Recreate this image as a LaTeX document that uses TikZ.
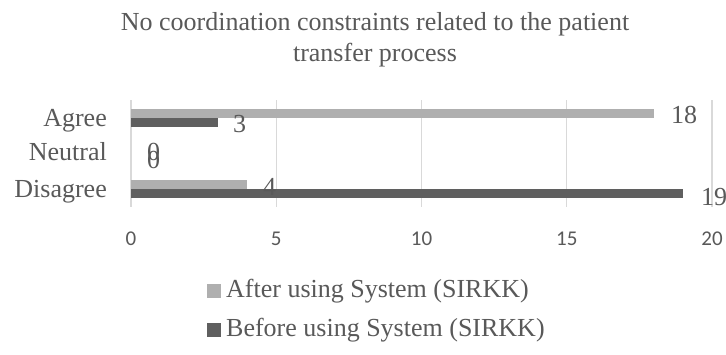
\documentclass[tikz,border=0pt]{standalone}
\usepackage{fontspec}
\setmainfont{Liberation Serif}
\newfontfamily\calibfont{Carlito}
\definecolor{txt}{HTML}{595959}
\definecolor{lightbar}{HTML}{AFAFAF}
\definecolor{darkbar}{HTML}{5F5F5F}
\definecolor{gridc}{HTML}{D9D9D9}
\begin{document}
\begin{tikzpicture}[x=1pt,y=-1pt,
  lbl/.style={font=\fontsize{26}{31}\selectfont, text=txt, inner sep=0pt},
  ticklbl/.style={font=\calibfont\fontsize{21}{25}\selectfont, text=txt, inner sep=0pt},
  gridline/.style={draw=gridc, line width=1.3pt},
  afterbar/.style={fill=lightbar},
  beforebar/.style={fill=darkbar}]
\useasboundingbox (0,0) rectangle (726,354);
\fill[white] (0,0) rectangle (726,354);
% title
\node[lbl, anchor=base] (title1) at (375,30) {No coordination constraints related to the patient};
\node[lbl, anchor=base] (title2) at (375,61) {transfer process};
% grid and ticks
\foreach \v in {0,5,10,15,20} {
  \draw[gridline] ({131+29.05*\v},100) -- ({131+29.05*\v},207);
  \node[ticklbl] (tick\v) at ({131+29.05*\v},238.5) {\v};
}
% bars
\fill[afterbar] (131,109) rectangle ({131+29.05*18},118);
\fill[beforebar] (131,118) rectangle ({131+29.05*3},127);
\fill[afterbar] (131,180) rectangle ({131+29.05*4},189);
\fill[beforebar] (131,189) rectangle ({131+29.05*19},198);
% data labels
\node[lbl, anchor=base west] (v18) at (671,123) {18};
\node[lbl, anchor=base west] (v3) at (233,132) {3};
\node[lbl, anchor=base west] (v0a) at (147,160) {0};
\node[lbl, anchor=base west] (v0b) at (147,168) {0};
\node[lbl, anchor=base west] (v4) at (263,195) {4};
\node[lbl, anchor=base west] (v19) at (701,205) {19};
% category labels
\node[lbl, anchor=base east] (cagree) at (107,126) {Agree};
\node[lbl, anchor=base east] (cneutral) at (107,160) {Neutral};
\node[lbl, anchor=base east] (cdisagree) at (107,197) {Disagree};
% legend
\fill[afterbar] (207,284) rectangle (221,298);
\node[lbl, anchor=base west] (legafter) at (226,297) {After using System (SIRKK)};
\fill[beforebar] (207,323) rectangle (221,337);
\node[lbl, anchor=base west] (legbefore) at (226,336) {Before using System (SIRKK)};
\end{tikzpicture}
\end{document}
